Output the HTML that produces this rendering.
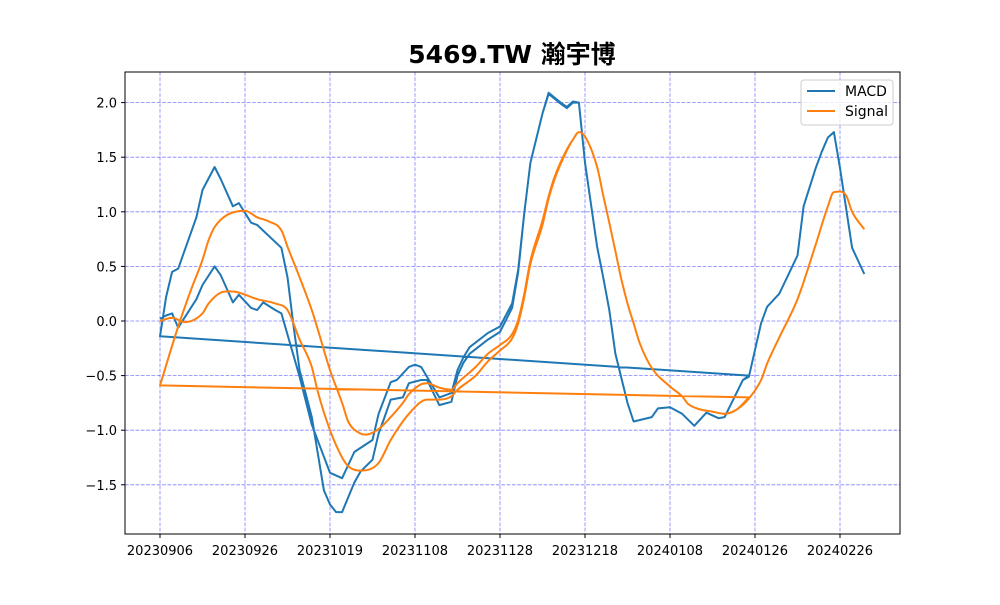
<!DOCTYPE html>
<html><head><meta charset="utf-8">
<style>
body{margin:0;background:#fff;}
svg text{font-family:"DejaVu Sans","Liberation Sans",sans-serif;}
</style></head>
<body>
<svg id="chart" width="1000" height="600" viewBox="0 0 1000 600" xmlns="http://www.w3.org/2000/svg">
<rect width="1000" height="600" fill="#fff"/>
<text x="512" y="63" text-anchor="middle" font-size="25" font-weight="bold" style='font-family:"DejaVu Sans","Noto Sans CJK TC",sans-serif'>5469.TW 瀚宇博</text>
<g id="grid"></g>
<g id="series"></g>
<rect x="125" y="72" width="775" height="462" fill="none" stroke="#000" stroke-width="1"/>
<g id="axes"></g>
<g>
<rect x="801" y="80" width="92" height="45" rx="3" fill="#fff" fill-opacity="0.8" stroke="#ccc"/>
<line x1="807" y1="91" x2="835" y2="91" stroke="#1f77b4" stroke-width="2"/>
<text x="845" y="96" font-size="14">MACD</text>
<line x1="807" y1="111" x2="835" y2="111" stroke="#ff7f0e" stroke-width="2"/>
<text x="845" y="116" font-size="14">Signal</text>
</g>
</svg>
<script>
const tickIdx = [0,14,28,42,56,70,84,98,112];
const tickLabels = ["20230906","20230926","20231019","20231108","20231128","20231218","20240108","20240126","20240226"];
const yTicks = [-1.5,-1.0,-0.5,0.0,0.5,1.0,1.5,2.0];
const macdAIdx = [0,1,2,3,6,7,9,10,12,13,15,16,17,19,20,23,25,28,30,32,35,36,38,39,41,42,43,46,48,49,50,51,54,56,58,59,60,61,63,64,66,67,68,69,70,72,73,74,75,77,78,81,82,84,86,88,90,92,93,96,97];
const macdAVal = [0.02,0.05,0.07,-0.06,0.2,0.33,0.5,0.42,0.17,0.24,0.12,0.1,0.17,0.1,0.07,-0.51,-0.95,-1.39,-1.44,-1.2,-1.09,-0.85,-0.56,-0.54,-0.42,-0.4,-0.42,-0.7,-0.66,-0.45,-0.33,-0.24,-0.11,-0.05,0.16,0.47,0.99,1.45,1.9,2.08,1.99,1.95,2.0,2.0,1.45,0.68,0.4,0.1,-0.3,-0.75,-0.92,-0.88,-0.8,-0.79,-0.85,-0.96,-0.84,-0.89,-0.88,-0.54,-0.5];
const macdBIdx = [0,1,2,3,6,7,9,10,12,13,15,16,20,21,22,23,25,27,28,29,30,32,33,35,36,37,38,40,41,43,44,46,48,49,50,51,54,56,58,59,60,61,63,64,66,67,68,69,70,72,73,74,75,77,78,81,82,84,86,88,90,92,93,96,97,99,100,102,105,106,108,109,110,111,112,114,116];
const macdBVal = [-0.14,0.22,0.45,0.48,0.95,1.2,1.41,1.3,1.05,1.08,0.9,0.88,0.67,0.4,-0.05,-0.45,-0.88,-1.55,-1.68,-1.75,-1.75,-1.48,-1.38,-1.27,-1.03,-0.88,-0.72,-0.7,-0.57,-0.54,-0.54,-0.77,-0.74,-0.5,-0.38,-0.3,-0.17,-0.1,0.12,0.45,0.99,1.45,1.9,2.09,2.0,1.96,2.01,2.0,1.45,0.68,0.4,0.1,-0.3,-0.75,-0.92,-0.88,-0.8,-0.79,-0.85,-0.96,-0.84,-0.89,-0.88,-0.54,-0.51,-0.02,0.13,0.25,0.6,1.05,1.4,1.55,1.68,1.73,1.4,0.67,0.43];
const sigAIdx = [0,2,4,7,8,10,12,13,16,19,21,23,25,26,28,30,31,33,36,38,41,44,46,48,49,52,54,56,58,59,60,61,63,64,65,67,68,69,70,72,73,74,75,76,77,78,79,81,84,86,87,89,91,93,95,97];
const sigAVal = [0.0,0.03,-0.01,0.07,0.16,0.26,0.27,0.26,0.2,0.16,0.1,-0.17,-0.42,-0.65,-1.0,-1.25,-1.33,-1.37,-1.3,-1.09,-0.85,-0.72,-0.72,-0.69,-0.63,-0.5,-0.37,-0.27,-0.16,-0.02,0.22,0.52,0.88,1.12,1.3,1.56,1.66,1.73,1.69,1.41,1.15,0.9,0.64,0.38,0.16,-0.02,-0.2,-0.43,-0.6,-0.69,-0.76,-0.81,-0.83,-0.85,-0.81,-0.70];
const sigBIdx = [0,3,5,7,8,9,11,14,16,18,20,21,23,25,26,28,30,31,33,34,36,38,40,41,43,44,46,48,49,52,54,56,58,59,60,61,63,64,65,67,68,69,70,72,73,74,75,76,77,78,79,81,84,86,87,89,91,93,95,97,99,100,102,105,108,110,111,113,114,116];
const sigBVal = [-0.59,-0.05,0.27,0.56,0.74,0.86,0.97,1.01,0.95,0.91,0.83,0.68,0.40,0.10,-0.08,-0.45,-0.75,-0.92,-1.03,-1.04,-0.99,-0.88,-0.75,-0.67,-0.58,-0.57,-0.61,-0.63,-0.57,-0.42,-0.3,-0.22,-0.12,0.01,0.25,0.55,0.92,1.14,1.32,1.57,1.66,1.73,1.69,1.41,1.15,0.9,0.64,0.38,0.16,-0.02,-0.2,-0.43,-0.6,-0.69,-0.76,-0.81,-0.83,-0.85,-0.81,-0.71,-0.54,-0.39,-0.15,0.2,0.7,1.05,1.18,1.15,1.0,0.84];

const NS='http://www.w3.org/2000/svg';
function xS(i){return 160+i*(840-160)/112;}
function yS(v){return 321-v*109.2;}
function mk(tag,attrs,parent){const e=document.createElementNS(NS,tag);for(const k in attrs)e.setAttribute(k,attrs[k]);parent.appendChild(e);return e;}
const grid=document.getElementById('grid'),axes=document.getElementById('axes'),series=document.getElementById('series');
tickIdx.forEach((t,k)=>{
  const x=xS(t);
  const g=mk('line',{x1:x,y1:72,x2:x,y2:534,stroke:'#0000ff','stroke-opacity':0.5,'stroke-dasharray':'3.7,1.6','stroke-width':0.8},grid);
  
  
  mk('line',{x1:x,y1:534,x2:x,y2:538,stroke:'#000'},axes);
  const tx=mk('text',{x:x,y:555,'text-anchor':'middle','font-size':13},axes);
  tx.textContent=tickLabels[k];
  
  
});
yTicks.forEach(v=>{
  const y=yS(v);
  const g=mk('line',{x1:125,y1:y,x2:900,y2:y,stroke:'#0000ff','stroke-opacity':0.5,'stroke-dasharray':'3.7,1.6','stroke-width':0.8},grid);
  
  
  mk('line',{x1:121,y1:y,x2:125,y2:y,stroke:'#000'},axes);
  const tx=mk('text',{x:117,y:y+5,'text-anchor':'end','font-size':13},axes);
  tx.textContent=v.toFixed(1).replace('-','−');
  
  
});
function pts(idx,val){return idx.map((i,k)=>[xS(i),yS(val[k])]);}
function smooth(p){
  const n=p.length, m=[];
  for(let k=0;k<n;k++){
    if(k===0) m.push((p[1][1]-p[0][1])/(p[1][0]-p[0][0]));
    else if(k===n-1) m.push((p[k][1]-p[k-1][1])/(p[k][0]-p[k-1][0]));
    else{
      const s0=(p[k][1]-p[k-1][1])/(p[k][0]-p[k-1][0]);
      const s1=(p[k+1][1]-p[k][1])/(p[k+1][0]-p[k][0]);
      m.push(s0*s1<=0?0:(s0+s1)/2);
    }
  }
  let d='M'+p[0][0].toFixed(1)+','+p[0][1].toFixed(1);
  for(let k=0;k<n-1;k++){
    const dx=(p[k+1][0]-p[k][0])/3;
    d+=' C'+(p[k][0]+dx).toFixed(1)+','+(p[k][1]+m[k]*dx).toFixed(1)+' '+(p[k+1][0]-dx).toFixed(1)+','+(p[k+1][1]-m[k+1]*dx).toFixed(1)+' '+p[k+1][0].toFixed(1)+','+p[k+1][1].toFixed(1);
  }
  return d;
}
function poly(p){return 'M'+p.map(q=>q[0].toFixed(1)+','+q[1].toFixed(1)).join(' L');}
function drawLine(a,b,color,name,isSmooth){
  const f=isSmooth?smooth:poly;
  const d=f(a)+' L'+b[0][0].toFixed(1)+','+b[0][1].toFixed(1)+' '+f(b).replace('M',' L');
  const p=mk('path',{d:d,fill:'none',stroke:color,'stroke-width':2,'stroke-linejoin':'round'},series);
  
  
}
drawLine(pts(macdAIdx,macdAVal),pts(macdBIdx,macdBVal),'#1f77b4','macd-line',false);
drawLine(pts(sigAIdx,sigAVal),pts(sigBIdx,sigBVal),'#ff7f0e','signal-line',true);
</script>
</body></html>
